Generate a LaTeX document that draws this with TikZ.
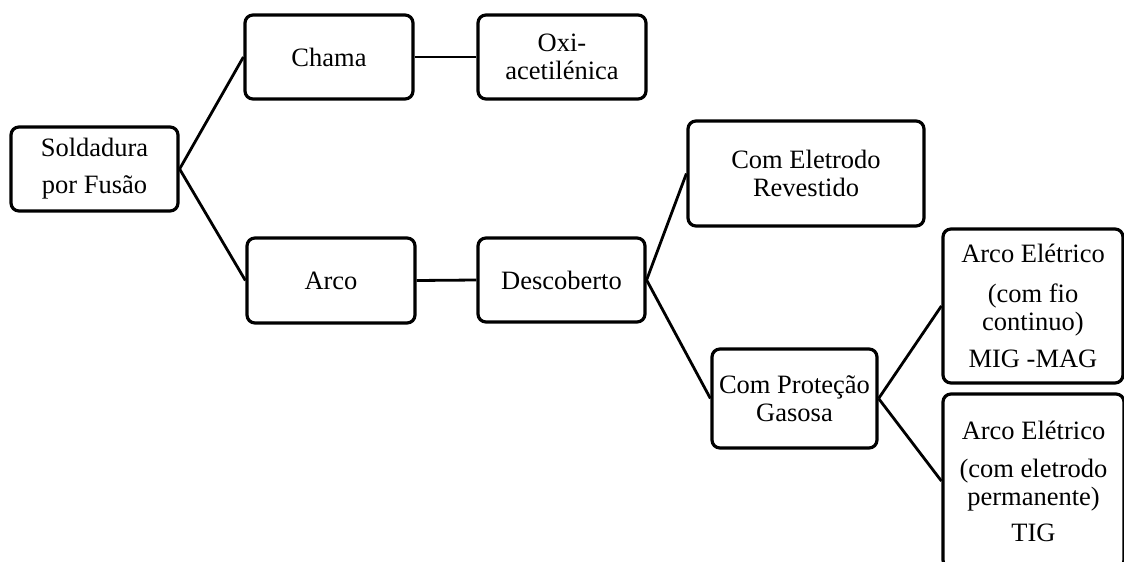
\documentclass[tikz,border=0pt]{standalone}
\usepackage{fontspec}
\setmainfont{Liberation Serif}
\begin{document}
\begin{tikzpicture}[x=1pt,y=-1pt,
  box/.style={draw,line width=3.2pt,rounded corners=8pt,align=center,inner sep=0pt,
    font=\fontsize{26.5}{28}\selectfont},
  link/.style={line width=2.8pt}]
\useasboundingbox (0,0) rectangle (1124,562);
\clip (0,0) rectangle (1124,562);
\node[box,minimum width=167pt,minimum height=84pt] (sf) at (94.5,169) {Soldadura\\[9pt]por Fusão};
\node[box,minimum width=168pt,minimum height=84pt] (chama) at (329,57) {Chama};
\node[box,minimum width=168pt,minimum height=84pt] (oxi) at (562,57) {Oxi-\\acetilénica};
\node[box,minimum width=168pt,minimum height=85pt] (arco) at (331,280.5) {Arco};
\node[box,minimum width=167pt,minimum height=84pt] (desc) at (561.5,280) {Descoberto};
\node[box,minimum width=236pt,minimum height=105pt] (elet) at (806,173.5) {Com Eletrodo\\Revestido};
\node[box,minimum width=165pt,minimum height=99pt] (prot) at (794.5,398.5) {Com Proteção\\Gasosa};
\node[box,minimum width=180pt,minimum height=154pt] (mig) at (1033,306) {Arco Elétrico\\[12pt](com fio\\continuo)\\[9pt]MIG -MAG};
\node[box,minimum width=181pt,minimum height=174pt] (tig) at (1033.5,481) {Arco Elétrico\\[10pt](com eletrodo\\permanente)\\[8pt]TIG};
\draw[link] (sf.east) -- (chama.west);
\draw[link] (sf.east) -- (arco.west);
\draw[link] (chama.east) -- (oxi.west);
\draw[link] (arco.east) -- (desc.west);
\draw[link] (desc.east) -- (elet.west);
\draw[link] (desc.east) -- (prot.west);
\draw[link] (prot.east) -- (mig.west);
\draw[link] (prot.east) -- (tig.west);
\end{tikzpicture}
\end{document}
